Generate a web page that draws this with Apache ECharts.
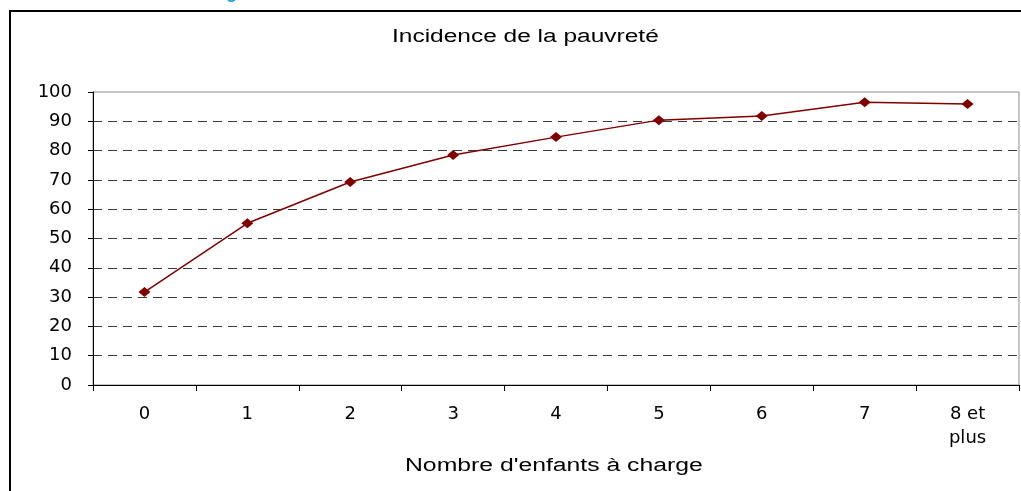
<!DOCTYPE html>
<html>
<head>
<meta charset="utf-8">
<title>Incidence de la pauvreté</title>
<script src="https://cdn.jsdelivr.net/npm/echarts@6/dist/echarts.min.js"></script>
<style>
  html, body { margin: 0; padding: 0; background: #fff; }
  #chart { width: 1021px; height: 491px; }
</style>
</head>
<body>
<div id="chart"></div>
<script>
// Data
const categories = ['0', '1', '2', '3', '4', '5', '6', '7', '8 et\nplus'];
const incidence = [31.7, 55.2, 69.3, 78.5, 84.6, 90.4, 91.8, 96.5, 95.9];
const yTicks = [0, 10, 20, 30, 40, 50, 60, 70, 80, 90, 100];
const titleText = 'Incidence de la pauvreté';
const xName = "Nombre d'enfants à charge";

const FONT = 'Liberation Sans, Arial, sans-serif';
const WIDE = 'DejaVu Sans, Verdana, sans-serif';

const chart = echarts.init(document.getElementById('chart'), null, { renderer: 'canvas' });

// one colour per gridline, the top one (100) is left to the grid border
const splitColors = yTicks.map(v => v === 100 ? 'rgba(0,0,0,0)' : '#3a3a3a');

chart.setOption({
    backgroundColor: '#fff',
    animation: false,
    graphic: [
        {
            // outer frame of the chart object
            type: 'rect',
            shape: { x: 10, y: 11, width: 1200, height: 600 },
            style: { fill: 'none', stroke: '#000', lineWidth: 2 },
            silent: true
        },
        {
            // clipped heading above the frame
            type: 'text',
            left: 226,
            top: -16,
            style: { text: 'g', fill: '#1a9fe6', font: 'bold 18px ' + FONT },
            silent: true
        },
        {
            // title, the source text is stretched horizontally
            type: 'text',
            x: 392,
            y: 37,
            scaleX: 1.36,
            style: {
                text: titleText,
                fill: '#000',
                font: '18px ' + FONT,
                textAlign: 'left',
                textVerticalAlign: 'middle'
            },
            silent: true
        },
        {
            // x axis name
            type: 'text',
            x: 405,
            y: 466,
            scaleX: 1.375,
            style: {
                text: xName,
                fill: '#000',
                font: '18px ' + FONT,
                textAlign: 'left',
                textVerticalAlign: 'middle'
            },
            silent: true
        }
    ],
    grid: {
        left: 93,
        right: 2,
        top: 92,
        bottom: 106,
        show: true,
        borderColor: '#8c8c8c',
        borderWidth: 1,
        backgroundColor: 'transparent'
    },
    xAxis: {
        type: 'category',
        data: categories,
        boundaryGap: true,
        axisLine: { lineStyle: { color: '#000', width: 1 } },
        axisTick: { show: true, length: 6, lineStyle: { color: '#000' } },
        axisLabel: {
            color: '#000',
            fontFamily: WIDE,
            fontSize: 18,
            margin: 17,
            lineHeight: 24
        }
    },
    yAxis: {
        type: 'value',
        min: 0,
        max: 100,
        interval: 10,
        axisLine: { show: true, lineStyle: { color: '#000', width: 1 } },
        axisTick: { show: true, length: 5, lineStyle: { color: '#000' } },
        axisLabel: {
            color: '#000',
            fontFamily: WIDE,
            fontSize: 18,
            margin: 21,
            formatter: v => yTicks.includes(v) ? String(v) : ''
        },
        splitLine: {
            show: true,
            lineStyle: { color: splitColors, type: [9, 6], width: 1 }
        }
    },
    series: [
        {
            name: 'Incidence',
            type: 'line',
            data: incidence,
            symbol: 'diamond',
            symbolSize: [12, 10],
            lineStyle: { color: '#800000', width: 1.5 },
            itemStyle: { color: '#800000' },
            z: 5
        }
    ]
});
</script>
</body>
</html>
